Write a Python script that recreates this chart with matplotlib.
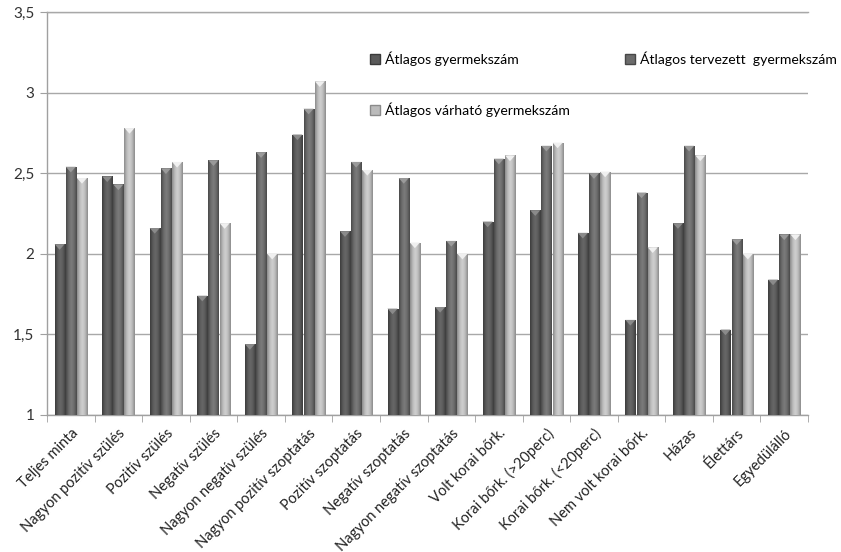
import numpy as np
import matplotlib
matplotlib.use('Agg')
import matplotlib.pyplot as plt
from matplotlib.colors import LinearSegmentedColormap
from matplotlib.patches import Polygon, Patch
import matplotlib.ticker as mticker

categories = ['Teljes minta', 'Nagyon pozitív szülés', 'Pozitív szülés', 'Negatív szülés',
              'Nagyon negatív szülés', 'Nagyon pozitív szoptatás', 'Pozitív szoptatás',
              'Negatív szoptatás', 'Nagyon negatív szoptatás', 'Volt korai bőrk.',
              'Korai bőrk. (>20perc)', 'Korai bőrk. (<20perc)', 'Nem volt korai bőrk.',
              'Házas', 'Élettárs', 'Egyedülálló']
atlagos = [2.06, 2.48, 2.16, 1.74, 1.44, 2.74, 2.14, 1.66, 1.67, 2.20, 2.27, 2.13, 1.59, 2.19, 1.53, 1.84]
tervezett = [2.54, 2.43, 2.53, 2.58, 2.63, 2.90, 2.57, 2.47, 2.08, 2.59, 2.67, 2.50, 2.38, 2.67, 2.09, 2.12]
varhato = [2.47, 2.78, 2.57, 2.19, 2.00, 3.07, 2.52, 2.07, 2.00, 2.61, 2.69, 2.51, 2.04, 2.61, 2.00, 2.12]
series_names = ['Átlagos gyermekszám', 'Átlagos tervezett  gyermekszám', 'Átlagos várható gyermekszám']

# edge / mid / highlight tones for the cylinder-style shading
shades = [
    ('#3a3a3a', '#5a5a5a', '#686868'),
    ('#474747', '#6c6c6c', '#7c7c7c'),
    ('#8a8a8a', '#bbbbbb', '#d0d0d0'),
]
caps = ['#8a8a8a', '#9a9a9a', '#f0f0f0']

plt.rcParams['font.family'] = ['Lato', 'DejaVu Sans']
fig = plt.figure(figsize=(8.41, 5.52), dpi=100)
ax = fig.add_axes([47 / 841, 1 - 415 / 552, 761 / 841, 403 / 552])

x = np.arange(len(categories))
w = 0.235
offsets = [-w, 0, w]
ylo = 1.0

for vals, off, (c_edge, c_mid, c_hi), cap in zip([atlagos, tervezett, varhato], offsets, shades, caps):
    cmap = LinearSegmentedColormap.from_list('g', [c_edge, c_mid, c_hi, c_mid, c_edge])
    grad = np.linspace(0, 1, 64).reshape(1, -1)
    bars = ax.bar(x + off, np.array(vals) - ylo, bottom=ylo, width=w * 0.9,
                  color=c_mid, edgecolor='none', zorder=2)
    for b in bars:
        x0, y0 = b.get_x(), b.get_y()
        x1, y1 = x0 + b.get_width(), y0 + b.get_height()
        im = ax.imshow(grad, cmap=cmap, extent=[x0, x1, y0, y1], aspect='auto',
                       interpolation='bicubic', zorder=3)
        im.set_clip_path(b)
        tri = Polygon([(x0, y1), (x1, y1), ((x0 + x1) / 2, y1 - 0.035)],
                      closed=True, facecolor=cap, edgecolor='none', zorder=4)
        ax.add_patch(tri)

ax.set_xlim(-0.5, len(categories) - 0.5)
ax.set_ylim(1, 3.5)
ax.yaxis.set_major_locator(mticker.MultipleLocator(0.5))
ax.yaxis.set_major_formatter(mticker.FuncFormatter(
    lambda v, p: f'{v:g}'.replace('.', ',')))
ax.grid(axis='y', color='#a8a8a8', linewidth=1.0, zorder=0)
ax.set_axisbelow(True)

ax.spines['right'].set_visible(False)
ax.spines['top'].set_color('#a8a8a8')
ax.spines['top'].set_linewidth(1.0)
for s in ['left', 'bottom']:
    ax.spines[s].set_color('#a0a0a0')
    ax.spines[s].set_linewidth(1.0)

ax.set_xticks(x)
ax.set_xticklabels(categories, rotation=45, ha='right', rotation_mode='anchor',
                   fontsize=10.5, color='#222222')
ax.tick_params(axis='x', length=0, pad=8)
ax.set_xticks(np.arange(-0.5, len(categories)), minor=True)
ax.tick_params(axis='x', which='minor', length=5, color='#a0a0a0', direction='out')
ax.tick_params(axis='y', length=5, color='#a0a0a0', labelsize=11, labelcolor='#333333', pad=4)
ax.set_ylim(1, 3.5)

handles = [Patch(facecolor=shades[0][1], edgecolor=shades[0][0]),
           Patch(facecolor=shades[2][1], edgecolor=shades[2][0]),
           Patch(facecolor=shades[1][1], edgecolor=shades[1][0])]
labels = [series_names[0], series_names[2], series_names[1]]
ax.legend(handles, labels, loc='upper left', bbox_to_anchor=(0.415, 0.92), ncol=2,
          frameon=False, fontsize=10.1, handlelength=0.7, handleheight=0.7,
          handletextpad=0.4, labelspacing=2.6, columnspacing=3.9, borderpad=0)

fig.savefig('out.png', dpi=100)
